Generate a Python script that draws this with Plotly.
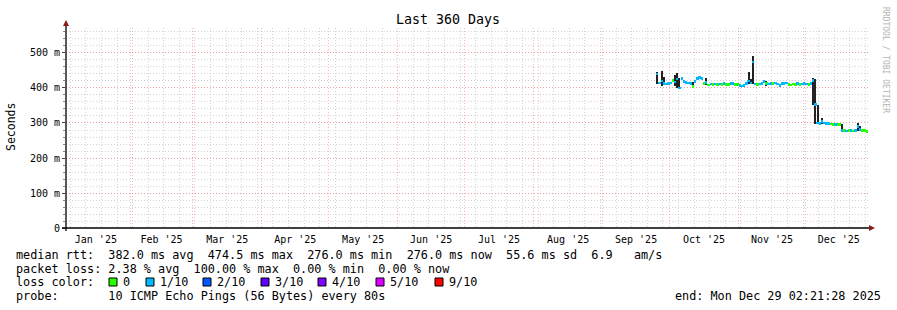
import pandas as pd
import plotly.graph_objects as go

# ---------------- data ----------------
start_day = "2025-09-25"
median_ms = [440, 414, 420, 413, 411, 412, 414, 422, 417, 426,
             400, 428, 418, 415, 414, 412, 405, 419, 428, 430,
             427, 413, 415, 409, 411, 410, 411, 410, 411, 410,
             412, 410, 410, 412, 413, 410, 410, 407, 406, 407,
             412, 420, 414, 474.5, 411, 410, 411, 412, 418, 413,
             411, 413, 412, 414, 411, 407, 413, 412, 414, 410,
             409, 411, 410, 412, 410, 411, 412, 411, 410, 412,
             421, 352, 300, 298, 304, 300, 299, 298, 297, 296,
             296, 296, 296, 278, 278, 277, 278, 278, 277, 279,
             290, 281, 279, 278, 276]
loss_idx = [1, 1, 1, 1, 1, 1, 1, 0, 1, 1,
            1, 1, 1, 1, 1, 1, 0, 1, 1, 1,
            1, 0, 1, 0, 1, 0, 1, 0, 1, 0,
            1, 0, 0, 1, 1, 0, 0, 1, 1, 1,
            1, 1, 1, 1, 1, 0, 1, 1, 1, 0,
            1, 1, 0, 1, 1, 1, 1, 1, 1, 0,
            0, 0, 0, 1, 0, 1, 1, 1, 0, 1,
            1, 1, 1, 1, 1, 1, 1, 1, 0, 0,
            1, 0, 0, 1, 0, 1, 0, 1, 0, 1,
            1, 1, 0, 0, 0]
smoke_dates = ["2025-09-25", "2025-09-27", "2025-09-28", "2025-10-03", "2025-10-04",
               "2025-10-05", "2025-10-11", "2025-10-17", "2025-11-05", "2025-11-06",
               "2025-11-07", "2025-11-13", "2025-11-19", "2025-12-04", "2025-12-05",
               "2025-12-06", "2025-12-08", "2025-12-17", "2025-12-24", "2025-12-25"]
smoke_lo = [410, 405, 408, 405, 400, 396, 402, 408, 410, 410,
            410, 405, 403, 352, 298, 298, 296, 276, 276, 277]
smoke_hi = [445, 448, 430, 438, 442, 428, 418, 428, 446, 425,
            490, 420, 412, 428, 425, 352, 314, 297, 300, 292]
loss_names = ["0", "1/10", "2/10", "3/10", "4/10", "5/10", "9/10"]
loss_colors = ["#26ff00", "#00b8ff", "#0059ff", "#5e00ff", "#7e00ff", "#dd00ff", "#ff0000"]
y_ticks = [0, 100, 200, 300, 400, 500]
y_ticktext = ["0", "100 m", "200 m", "300 m", "400 m", "500 m"]
x_start = "2025-01-03 02:21:28"
x_end = "2025-12-29 02:21:28"

# ---------------- geometry helpers ----------------
W, H = 897, 310
L, R, T, B = 66, 868, 28, 228


def px(x):
    return (x - L) / (R - L)


def py(y):
    return (B - y) / (B - T)


DAY = 86400000
days = pd.date_range(start_day, periods=len(median_ms), freq="D") + pd.Timedelta(hours=12)
sdays = pd.to_datetime(smoke_dates) + pd.Timedelta(hours=12)
band = 3.8

fig = go.Figure()
fig.add_trace(go.Bar(
    x=sdays, y=[h - l for l, h in zip(smoke_lo, smoke_hi)], base=smoke_lo,
    width=DAY * 0.5, marker=dict(color="#222222", line=dict(width=0)),
    hoverinfo="skip", showlegend=False))
fig.add_trace(go.Bar(
    x=days, y=[2 * band] * len(median_ms), base=[m - band for m in median_ms],
    width=DAY * 1.05, marker=dict(color=[loss_colors[i] for i in loss_idx], line=dict(width=0)),
    hoverinfo="skip", showlegend=False))

mono = "DejaVu Sans Mono"
grid_minor = "rgba(170,170,170,0.5)"
grid_major = "rgba(255,90,90,0.45)"

fig.update_layout(
    width=W, height=H,
    margin=dict(l=L, r=W - R, t=T, b=H - B, pad=0),
    paper_bgcolor="white", plot_bgcolor="white",
    barmode="overlay", bargap=0,
    showlegend=False,
    font=dict(family=mono, size=10, color="#000"),
    xaxis=dict(
        type="date", range=[x_start, x_end],
        tick0="2025-01-01", dtick="M1", tickformat="%b '%y",
        ticklabelmode="period", ticks="outside", ticklen=2, tickcolor="rgba(0,0,0,0)",
        showline=False, zeroline=False,
        showgrid=True, gridcolor=grid_major, griddash="1px,2px", gridwidth=1,
        tickfont=dict(family=mono, size=10, color="#000"),
        minor=dict(tick0="2025-01-05", dtick=7 * DAY, showgrid=True,
                   gridcolor=grid_minor, griddash="1px,2px", gridwidth=1),
    ),
    yaxis=dict(
        range=[0, 571.4], tickvals=y_ticks, ticktext=y_ticktext,
        ticks="outside", ticklen=3, tickcolor="#444", tickwidth=1,
        showline=False, zeroline=False,
        showgrid=True, gridcolor=grid_major, griddash="1px,2px", gridwidth=1,
        tickfont=dict(family=mono, size=10, color="#000"),
        minor=dict(dtick=20, showgrid=True, gridcolor=grid_minor, griddash="1px,2px",
                   gridwidth=1, ticks="outside", ticklen=2, tickcolor="#888"),
    ),
)

shapes = [
    dict(type="line", xref="paper", yref="paper", x0=px(62), x1=px(870), y0=py(228), y1=py(228),
         line=dict(color="black", width=1.3)),
    dict(type="line", xref="paper", yref="paper", x0=px(66), x1=px(66), y0=py(231), y1=py(24),
         line=dict(color="black", width=1.3)),
    dict(type="path", xref="paper", yref="paper",
         path=f"M {px(63)} {py(26)} L {px(69)} {py(26)} L {px(66)} {py(20)} Z",
         fillcolor="#8b1a1a", line=dict(width=0)),
    dict(type="path", xref="paper", yref="paper",
         path=f"M {px(869)} {py(225)} L {px(869)} {py(231)} L {px(875)} {py(228)} Z",
         fillcolor="#8b1a1a", line=dict(width=0)),
]

ann = []


def text(x, y, s, size=11.8, anchor="left", color="#000", angle=0):
    ann.append(dict(xref="paper", yref="paper", x=px(x), y=py(y), text=s.replace(" ", "\u00a0"),
                    showarrow=False, xanchor=anchor, yanchor="middle", textangle=angle,
                    font=dict(family=mono, size=size, color=color), borderpad=0))


text(448, 19, "Last 360 Days", size=13.3, anchor="center")
text(11, 127, "Seconds", size=11.5, anchor="center", angle=-90)
text(886, 60, "RRDTOOL / TOBI OETIKER", size=8, anchor="center", color="#b4b4b4", angle=90)

text(15, 255, "median rtt:  382.0 ms avg  474.5 ms max  276.0 ms min  276.0 ms now  55.6 ms sd  6.9   am/s")
text(15, 268.5, "packet loss: 2.38 % avg  100.00 % max  0.00 % min  0.00 % now")
text(15, 282, "loss color:")
text(15, 296, "probe:       10 ICMP Echo Pings (56 Bytes) every 80s")
text(882, 296, "end: Mon Dec 29 02:21:28 2025", anchor="right")

box_x = [109, 146, 203, 261, 318, 376, 435]
for bx, name, col in zip(box_x, loss_names, loss_colors):
    shapes.append(dict(type="rect", xref="paper", yref="paper",
                       x0=px(bx), x1=px(bx + 8), y0=py(278), y1=py(286),
                       fillcolor=col, line=dict(color="black", width=1)))
    text(bx + 13, 282, name)

fig.update_layout(shapes=shapes, annotations=ann)
fig.write_html("out.html")
